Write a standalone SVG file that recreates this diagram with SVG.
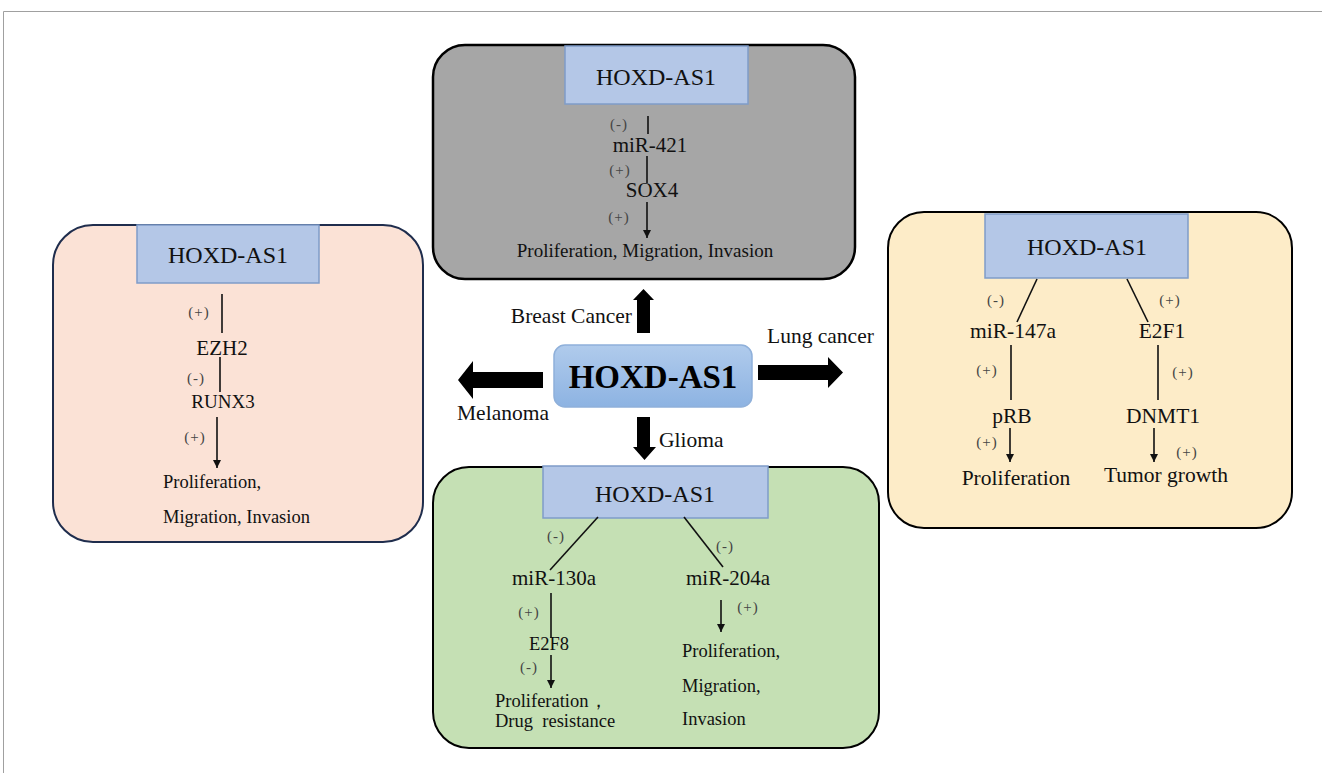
<svg xmlns="http://www.w3.org/2000/svg" width="1322" height="773" viewBox="0 0 1322 773" font-family="'Liberation Serif','Times New Roman',serif">
<defs>
<marker id="ah" viewBox="0 0 10 10" refX="10" refY="5" markerWidth="8" markerHeight="8" markerUnits="userSpaceOnUse" orient="auto">
<path d="M0,0 L10,5 L0,10 Z" fill="#111"/>
</marker>
<linearGradient id="cg" x1="0" y1="0" x2="0" y2="1">
<stop offset="0" stop-color="#b0cbec"/>
<stop offset="1" stop-color="#8db3e2"/>
</linearGradient>
<style>
text, tspan{font-family:"Liberation Serif","Times New Roman",serif;fill:#111;}
.hdr{fill:#b4c7e7;stroke:#7f9cc9;stroke-width:1.5;}
.ht{font-size:24px;text-anchor:middle;}
.sg{font-size:15px;fill:#444;text-anchor:middle;letter-spacing:1px;}
.ln{stroke:#111;stroke-width:1.6;fill:none;}
.ar{stroke:#111;stroke-width:1.6;fill:none;marker-end:url(#ah);}
.lb{font-size:21.5px;}
.big{fill:#000;}
</style>
</defs>
<rect width="1322" height="773" fill="#fff"/>
<path d="M3.5,773 V11.5 H1322" fill="none" stroke="#a0a0a0" stroke-width="1"/>

<g id="breast">
<rect x="433" y="45" width="422" height="234" rx="32" fill="#a6a6a6" stroke="#000" stroke-width="2.5"/>
<rect class="hdr" x="565" y="46" width="183" height="58"/>
<text class="ht" x="656" y="85">HOXD-AS1</text>
<text class="sg" x="619" y="129">(-)</text>
<line class="ln" x1="648" y1="116" x2="648" y2="134"/>
<text x="650" y="152" font-size="21" text-anchor="middle">miR-421</text>
<line class="ln" x1="647" y1="156" x2="647" y2="183"/>
<text class="sg" x="620" y="175">(+)</text>
<text x="652" y="197" font-size="21" text-anchor="middle">SOX4</text>
<line class="ar" x1="647" y1="202" x2="647" y2="238"/>
<text class="sg" x="619" y="222">(+)</text>
<text x="645" y="257" font-size="19" text-anchor="middle">Proliferation, Migration, Invasion</text>
</g>

<g id="melanoma">
<rect x="53" y="225" width="370" height="317" rx="40" fill="#fbe2d6" stroke="#1f2d4d" stroke-width="2"/>
<rect class="hdr" x="137" y="225" width="182" height="58"/>
<text class="ht" x="228" y="263">HOXD-AS1</text>
<text class="sg" x="199" y="317">(+)</text>
<line class="ln" x1="222" y1="294" x2="222" y2="333"/>
<text x="222" y="355" font-size="21" text-anchor="middle">EZH2</text>
<line class="ln" x1="220" y1="357" x2="220" y2="392"/>
<text class="sg" x="196" y="383">(-)</text>
<text x="223" y="408" font-size="19" text-anchor="middle">RUNX3</text>
<line class="ar" x1="217" y1="417" x2="217" y2="468"/>
<text class="sg" x="195" y="442">(+)</text>
<text x="163" y="488" font-size="18.5">Proliferation,</text>
<text x="163" y="523" font-size="18.5">Migration, Invasion</text>
</g>

<g id="lung">
<rect x="888" y="212" width="404" height="316" rx="36" fill="#fdecc8" stroke="#000" stroke-width="2"/>
<rect class="hdr" x="985" y="214" width="203" height="64"/>
<text class="ht" x="1087" y="255">HOXD-AS1</text>
<line class="ln" x1="1037" y1="279" x2="1017" y2="322"/>
<text class="sg" x="996" y="305">(-)</text>
<line class="ln" x1="1127" y1="279" x2="1148" y2="322"/>
<text class="sg" x="1170" y="305">(+)</text>
<text class="lb" x="1013" y="338" text-anchor="middle">miR-147a</text>
<text class="lb" x="1162" y="338" text-anchor="middle">E2F1</text>
<line class="ln" x1="1011" y1="345" x2="1011" y2="400"/>
<text class="sg" x="987" y="375">(+)</text>
<line class="ln" x1="1158" y1="345" x2="1158" y2="400"/>
<text class="sg" x="1183" y="377">(+)</text>
<text class="lb" x="1012" y="423" text-anchor="middle">pRB</text>
<text class="lb" x="1163" y="423" text-anchor="middle">DNMT1</text>
<line class="ar" x1="1010" y1="428" x2="1010" y2="462"/>
<text class="sg" x="987" y="447">(+)</text>
<line class="ar" x1="1154" y1="428" x2="1154" y2="462"/>
<text class="sg" x="1187" y="457">(+)</text>
<text class="lb" x="1016" y="485" text-anchor="middle">Proliferation</text>
<text class="lb" x="1166" y="482" text-anchor="middle">Tumor growth</text>
</g>

<g id="glioma">
<rect x="433" y="467" width="446" height="281" rx="36" fill="#c5e0b4" stroke="#000" stroke-width="2"/>
<rect class="hdr" x="543" y="466" width="225" height="52"/>
<text class="ht" x="655" y="502">HOXD-AS1</text>
<line class="ln" x1="598" y1="517" x2="550" y2="570"/>
<text class="sg" x="556" y="541">(-)</text>
<line class="ln" x1="684" y1="517" x2="723" y2="567"/>
<text class="sg" x="725" y="551">(-)</text>
<text x="554" y="585" font-size="21" text-anchor="middle">miR-130a</text>
<text x="728" y="585" font-size="21" text-anchor="middle">miR-204a</text>
<line class="ln" x1="551" y1="593" x2="551" y2="638"/>
<text class="sg" x="529" y="617">(+)</text>
<text x="549" y="650" font-size="18.5" text-anchor="middle">E2F8</text>
<line class="ar" x1="551" y1="655" x2="551" y2="688"/>
<text class="sg" x="529" y="672">(-)</text>
<text x="495" y="707" font-size="18.5">Proliferation，</text>
<text x="495" y="727" font-size="18.5" xml:space="preserve">Drug  resistance</text>
<line class="ar" x1="721" y1="600" x2="721" y2="632"/>
<text class="sg" x="748" y="612">(+)</text>
<text x="682" y="657" font-size="18.5">Proliferation,</text>
<text x="682" y="692" font-size="18.5">Migration,</text>
<text x="682" y="725" font-size="18.5">Invasion</text>
</g>

<g id="center">
<rect x="554" y="345" width="198" height="62" rx="11" fill="url(#cg)" stroke="#8fb0da" stroke-width="1.5"/>
<text x="653" y="388" font-size="33" font-weight="bold" text-anchor="middle" class="big">HOXD-AS1</text>
</g>

<g id="connectors">
<path d="M637,333 V300 H633 L643.5,289 L654,300 H650 V333 Z" fill="#000"/>
<path d="M637,417 V447 H633 L644.5,460 L656,447 H650 V417 Z" fill="#000"/>
<path d="M543,372 H473 V361 L458,380 L473,399 V388 H543 Z" fill="#000"/>
<path d="M758,365 H828 V357 L843,372.5 L828,388 V380 H758 Z" fill="#000"/>
<text class="lb" x="632" y="323" text-anchor="end">Breast Cancer</text>
<text class="lb" x="767" y="343">Lung cancer</text>
<text class="lb" x="457" y="420">Melanoma</text>
<text class="lb" x="659" y="447">Glioma</text>
</g>
</svg>
